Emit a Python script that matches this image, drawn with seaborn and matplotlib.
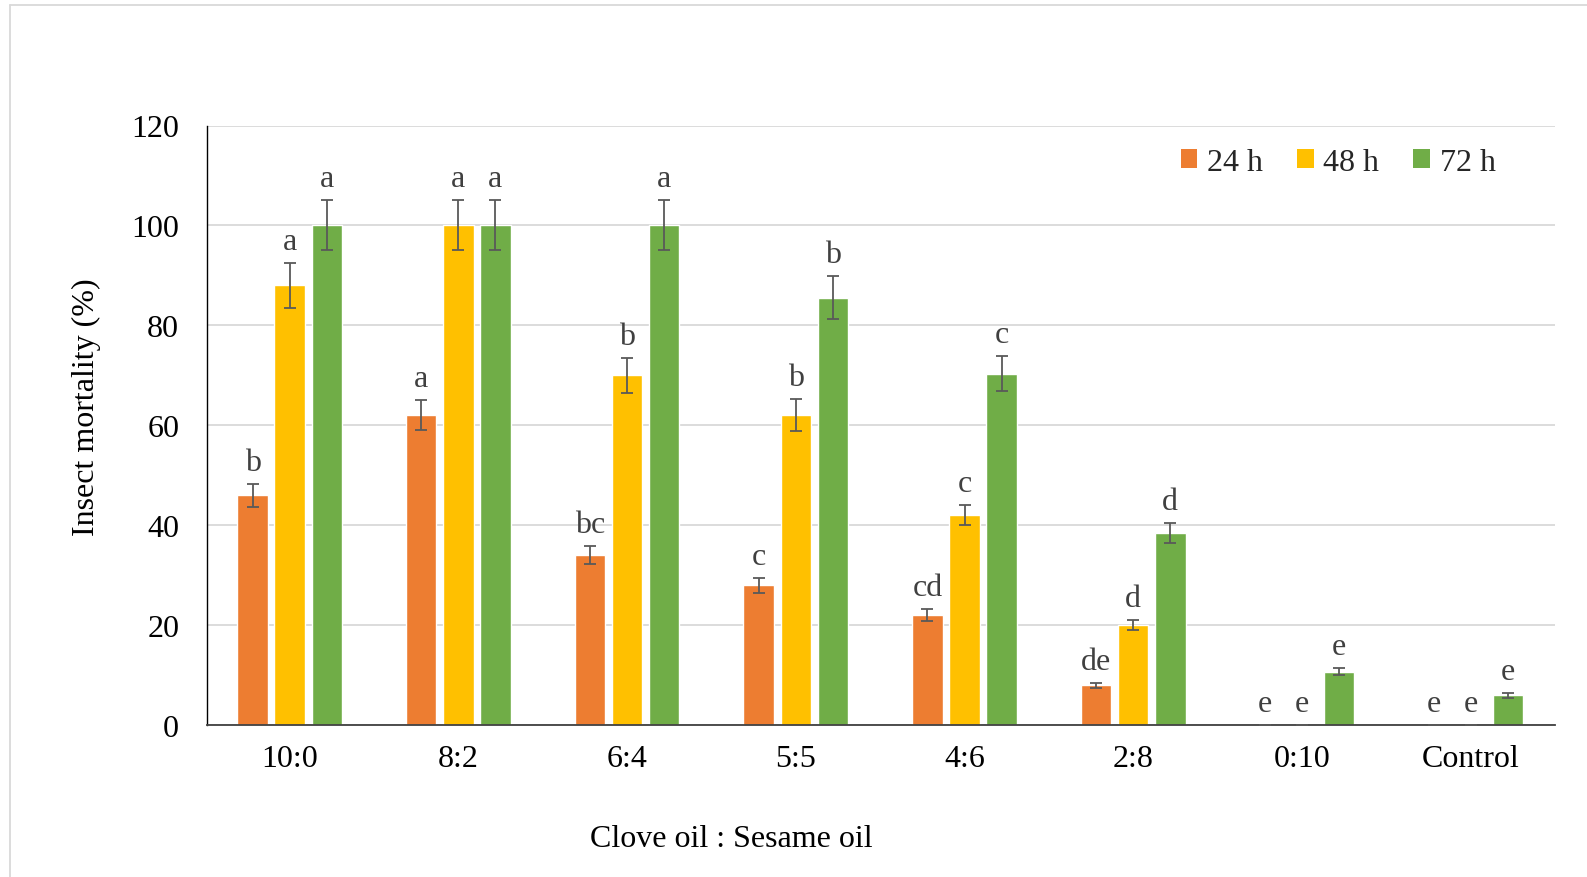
import matplotlib
matplotlib.use("Agg")
import matplotlib.pyplot as plt
import seaborn as sns
import pandas as pd
from matplotlib.lines import Line2D
from matplotlib.patches import Patch

ratios = ["10:0", "8:2", "6:4", "5:5", "4:6", "2:8", "0:10", "Control"]
times = ["24 h", "48 h", "72 h"]
mort_24 = [46, 62, 34, 28, 22, 8, 0, 0]
mort_48 = [88, 100, 70, 62, 42, 20, 0, 0]
mort_72 = [100, 100, 100, 85.5, 70.3, 38.5, 10.7, 6]
err_24 = [2.3, 3.0, 1.8, 1.5, 1.2, 0.5, 0, 0]
err_48 = [4.5, 5.0, 3.5, 3.2, 2.0, 1.0, 0, 0]
err_72 = [5.0, 5.0, 5.0, 4.3, 3.5, 2.0, 0.7, 0.5]
lab_24 = ["b", "a", "bc", "c", "cd", "de", "e", "e"]
lab_48 = ["a", "a", "b", "b", "c", "d", "e", "e"]
lab_72 = ["a", "a", "a", "b", "c", "d", "e", "e"]
colors = ["#ED7D31", "#FFC000", "#70AD47"]

sns.set_theme(style="white")
plt.rcParams["font.family"] = ["Liberation Serif", "DejaVu Serif"]
FS = 23

rows = []
for t, vals in zip(times, [mort_24, mort_48, mort_72]):
    for r, v in zip(ratios, vals):
        rows.append({"ratio": r, "time": t, "mortality": v})
df = pd.DataFrame(rows)

fig = plt.figure(figsize=(15.87, 8.78), dpi=100)
ax = fig.add_axes([207/1587, 1 - 726/878, (1555-207)/1587, (726-126.5)/878])

sns.barplot(data=df, x="ratio", y="mortality", hue="time", order=ratios,
            hue_order=times, palette=colors, width=0.66, gap=0.18,
            errorbar=None, ax=ax, legend=False, saturation=1)

errs = [err_24, err_48, err_72]
labs = [lab_24, lab_48, lab_72]
for cont, e_list, l_list in zip(ax.containers, errs, labs):
    for patch, e, l in zip(cont.patches, e_list, l_list):
        xc = patch.get_x() + patch.get_width() / 2
        h = patch.get_height()
        ax.errorbar(xc, h, yerr=e, fmt="none", ecolor="#595959",
                    elinewidth=1.3, capsize=4.5, capthick=1.3, zorder=4)
        ax.annotate(l, (xc, h + e), xytext=(0, 5), textcoords="offset points",
                    ha="center", va="bottom", fontsize=FS, color="#404040")

ax.set_ylim(0, 120)
ax.set_xlim(-0.49, 7.5)
ax.set_yticks(range(0, 121, 20))
ax.yaxis.grid(True, color="#D9D9D9", linewidth=1.3)
ax.set_axisbelow(True)
for s in ["top", "right"]:
    ax.spines[s].set_visible(False)
ax.spines["left"].set_color("black")
ax.spines["bottom"].set_color("#404040")
ax.spines["left"].set_linewidth(1.0)
ax.spines["bottom"].set_linewidth(1.3)
ax.tick_params(axis="y", length=0, pad=20, labelsize=FS, labelcolor="black")
ax.tick_params(axis="x", length=0, pad=14, labelsize=FS, labelcolor="black")

ax.set_ylabel("Insect mortality (%)", fontsize=FS, color="black")
ax.yaxis.set_label_coords(-0.079, 0.532)
ax.set_xlabel("Clove oil : Sesame oil", fontsize=FS, color="black")
ax.xaxis.set_label_coords(0.389, -0.165)

handles = [Patch(facecolor=c, edgecolor="none") for c in colors]
ax.legend(handles, times, ncol=3, frameon=False, loc="upper right",
          bbox_to_anchor=(0.956, 0.963), fontsize=FS, handlelength=0.52,
          handleheight=0.52, handletextpad=0.3, columnspacing=1.07,
          borderpad=0, borderaxespad=0)

fig.add_artist(Line2D([10/1587, 10/1587], [0, 1 - 6/878], color="#D9D9D9",
                      linewidth=1.3, transform=fig.transFigure))
fig.add_artist(Line2D([10/1587, 1], [1 - 6/878, 1 - 6/878], color="#D9D9D9",
                      linewidth=1.3, transform=fig.transFigure))

fig.savefig("out.png", dpi=100)
